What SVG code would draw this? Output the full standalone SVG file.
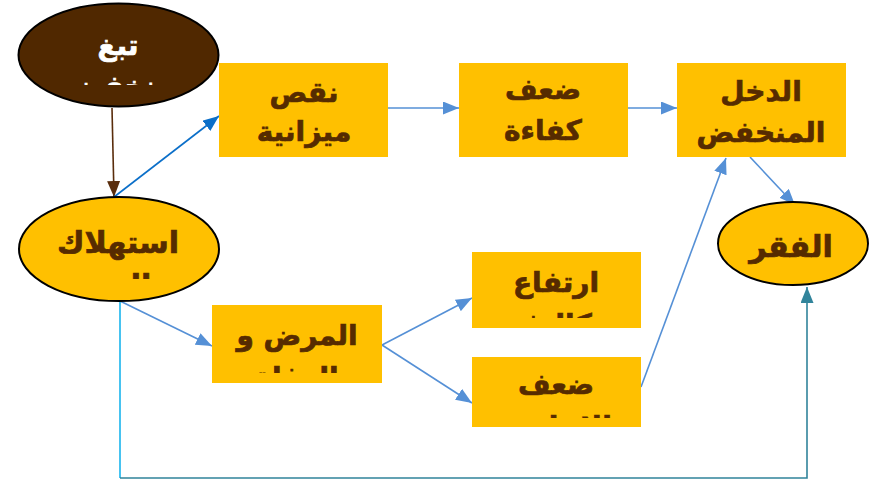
<svg xmlns="http://www.w3.org/2000/svg" width="875" height="482" viewBox="0 0 875 482">
<style>
.box{fill:#FFC000}
.ell{fill:#FFC000;stroke:#000;stroke-width:2}
.t{font-family:"DejaVu Sans",sans-serif;font-weight:bold;fill:#562B00;stroke:#562B00;stroke-width:0.7;text-anchor:middle}
.tw{font-family:"DejaVu Sans",sans-serif;font-weight:bold;fill:#FFFFFF;stroke:#FFFFFF;stroke-width:0.7;text-anchor:middle}
.c{fill:none;stroke-width:1.6}
</style>
<defs>
<marker id="aBrown" viewBox="0 0 16 13" refX="16" refY="6.5" markerWidth="16" markerHeight="13" markerUnits="userSpaceOnUse" orient="auto"><path d="M0,0 L16,6.5 L0,13 z" fill="#5A2D0C"/></marker>
<marker id="aDark" viewBox="0 0 16 13" refX="16" refY="6.5" markerWidth="16" markerHeight="13" markerUnits="userSpaceOnUse" orient="auto"><path d="M0,0 L16,6.5 L0,13 z" fill="#0B6FC9"/></marker>
<marker id="aBlue" viewBox="0 0 16 13" refX="16" refY="6.5" markerWidth="16" markerHeight="13" markerUnits="userSpaceOnUse" orient="auto"><path d="M0,0 L16,6.5 L0,13 z" fill="#5590D6"/></marker>
<marker id="aTeal" viewBox="0 0 16 13" refX="16" refY="6.5" markerWidth="16" markerHeight="13" markerUnits="userSpaceOnUse" orient="auto"><path d="M0,0 L16,6.5 L0,13 z" fill="#31849B"/></marker>
<clipPath id="cTob"><rect x="0" y="0" width="240" height="85"/></clipPath>
<clipPath id="cCons"><rect x="0" y="190" width="240" height="89"/></clipPath>
<clipPath id="cDis"><rect x="212" y="305" width="170" height="68"/></clipPath>
<clipPath id="cRise"><rect x="472" y="252" width="169" height="66"/></clipPath>
<clipPath id="cWeak"><rect x="472" y="357" width="169" height="61"/></clipPath>
<clipPath id="cInc"><rect x="677" y="63" width="169" height="94"/></clipPath>
</defs>

<g id="connectors">
<line class="c" x1="112" y1="108" x2="114" y2="197" stroke="#5A2D0C" marker-end="url(#aBrown)"/>
<line class="c" x1="114" y1="197" x2="219" y2="116" stroke="#0B6FC9" marker-end="url(#aDark)"/>
<line class="c" x1="388" y1="108" x2="459" y2="108" stroke="#5590D6" marker-end="url(#aBlue)"/>
<line class="c" x1="628" y1="108" x2="677" y2="108" stroke="#5590D6" marker-end="url(#aBlue)"/>
<line class="c" x1="750" y1="157" x2="795" y2="205" stroke="#5590D6" marker-end="url(#aBlue)"/>
<line class="c" x1="120" y1="301" x2="212" y2="346" stroke="#5590D6" marker-end="url(#aBlue)"/>
<line class="c" x1="382" y1="345" x2="472" y2="298" stroke="#5590D6" marker-end="url(#aBlue)"/>
<line class="c" x1="382" y1="345" x2="472" y2="403" stroke="#5590D6" marker-end="url(#aBlue)"/>
<line class="c" x1="641" y1="387" x2="726" y2="158" stroke="#5590D6" marker-end="url(#aBlue)"/>
<line class="c" x1="120" y1="301" x2="120" y2="478" stroke="#18B4EE" stroke-width="2"/>
<polyline class="c" points="120,478 807,478 807,287" stroke="#31849B" stroke-width="2" marker-end="url(#aTeal)"/>
</g>

<g id="tobacco">
<ellipse cx="118.5" cy="55" rx="100" ry="51.5" fill="#502800" stroke="#000" stroke-width="2"/>
<g clip-path="url(#cTob)">
<text class="tw" x="118" y="55" font-size="28">تبغ</text>
<text class="tw" x="120" y="96" font-size="28">منخفض</text>
</g>
</g>

<g id="budget">
<rect class="box" x="219" y="63" width="169" height="94"/>
<text class="t" x="304" y="102" font-size="28">نقص</text>
<text class="t" x="304" y="141" font-size="28">ميزانية</text>
</g>

<g id="efficiency">
<rect class="box" x="459" y="63" width="169" height="94"/>
<text class="t" x="543" y="99" font-size="28">ضعف</text>
<text class="t" x="543" y="140" font-size="28">كفاءة</text>
</g>

<g id="income">
<rect class="box" x="677" y="63" width="169" height="94"/>
<g clip-path="url(#cInc)">
<text class="t" x="761" y="101" font-size="28">الدخل</text>
<text class="t" x="761" y="142" font-size="28">المنخفض</text>
</g>
</g>

<g id="consumption">
<ellipse class="ell" cx="119" cy="249" rx="100" ry="52"/>
<g clip-path="url(#cCons)">
<text class="t" x="118" y="253" font-size="30">استهلاك</text>
<text class="t" x="118" y="296" font-size="30">التبغ</text>
</g>
</g>

<g id="poverty">
<ellipse class="ell" cx="793" cy="243.5" rx="75" ry="41.5"/>
<text class="t" x="791" y="257" font-size="30">الفقر</text>
</g>

<g id="disease">
<rect class="box" x="212" y="305" width="170" height="78"/>
<g clip-path="url(#cDis)">
<text class="t" x="297" y="345" font-size="28">المرض و</text>
<text class="t" x="297" y="387" font-size="28">الوفاة</text>
</g>
</g>

<g id="rise">
<rect class="box" x="472" y="252" width="169" height="76"/>
<g clip-path="url(#cRise)">
<text class="t" x="556" y="292" font-size="28">ارتفاع</text>
<text class="t" x="556" y="334" font-size="28">تكاليف</text>
</g>
</g>

<g id="weakness">
<rect class="box" x="472" y="357" width="169" height="70"/>
<g clip-path="url(#cWeak)">
<text class="t" x="556" y="394" font-size="28">ضعف</text>
<text class="t" x="556" y="436" font-size="28">الإنتاجية</text>
</g>
</g>
</svg>
